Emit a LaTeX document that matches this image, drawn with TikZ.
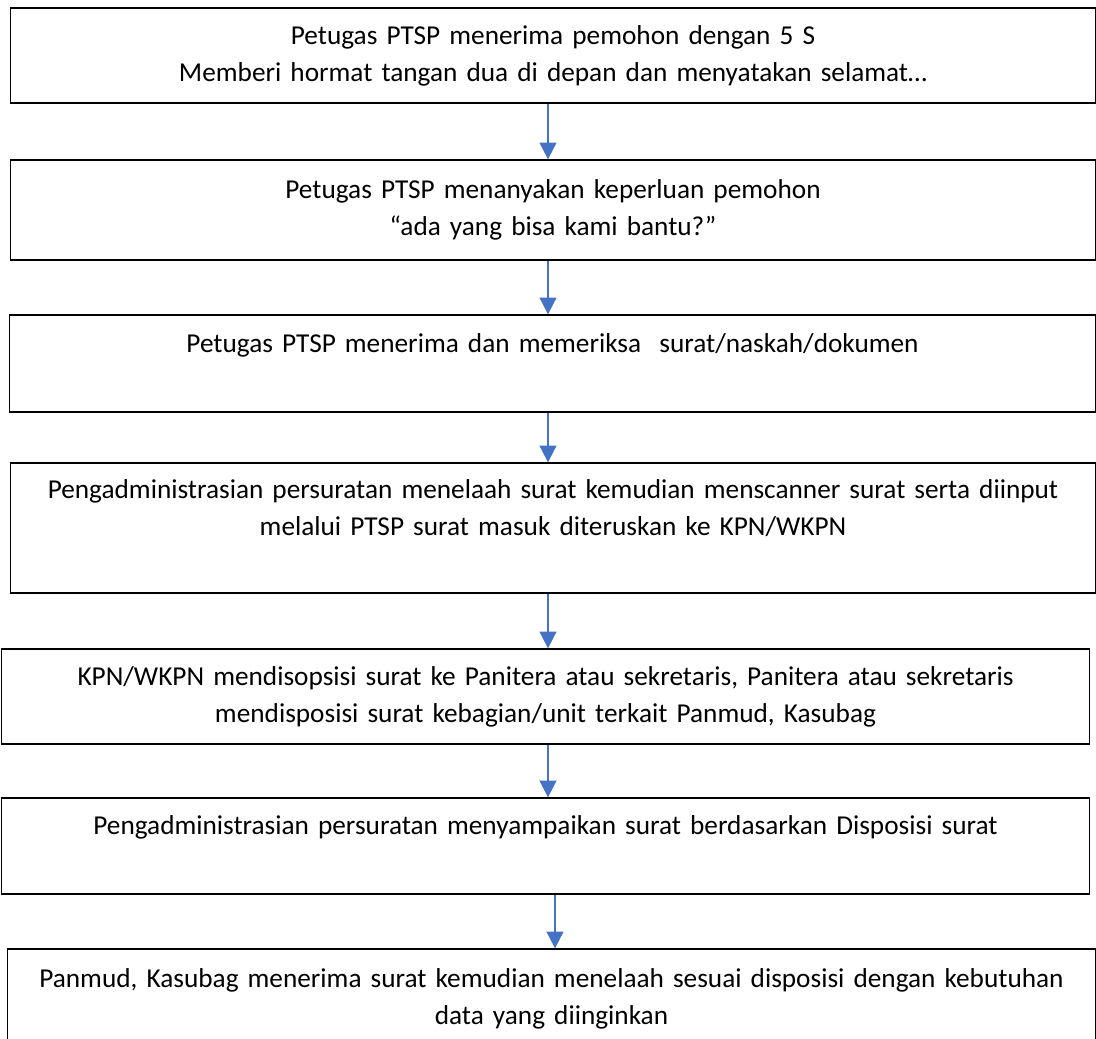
\documentclass[tikz,border=0pt]{standalone}
\usepackage{fontspec}
\setmainfont{Carlito}
\usetikzlibrary{arrows.meta}
\definecolor{flowblue}{HTML}{4472C4}
\newcommand{\boxfont}{\fontsize{19.4}{26.3}\selectfont}
\begin{document}
\begin{tikzpicture}[
                x = 0.025cm, y = -0.025cm,
                stepbox/.style = {draw, line width = 0.9pt, rectangle, align = center,
                                  text width = 26.8cm, inner sep = 0pt, font = \boxfont,
                                  execute at begin node = \strut, execute at end node = \strut},
                flow/.style = {draw = flowblue, line width = 1.3pt,
                               -{Triangle[width = 0.42cm, length = 0.42cm]}}
                ]
                \useasboundingbox (0,0) rectangle (1096,1038);
                \clip (0,0) rectangle (1096,1038);
                \coordinate (col) at (548,0);
                \coordinate (colb) at (555,0);
                % boxes
                \node[stepbox, minimum width = 27.1cm, minimum height = 2.375cm] (b1) at (553,55.5)
                    {Petugas PTSP menerima pemohon dengan 5 S\\Memberi hormat tangan dua di depan dan menyatakan selamat…};
                \node[stepbox, minimum width = 27.1cm, minimum height = 2.5cm] (b2) at (553,210)
                    {Petugas PTSP menanyakan keperluan pemohon\\“ada yang bisa kami bantu?”};
                \node[stepbox, minimum width = 27.125cm, minimum height = 2.425cm] (b3) at (552.5,363.5)
                    {Petugas PTSP menerima dan memeriksa\ \ surat/naskah/dokumen\\};
                \node[stepbox, minimum width = 27.1cm, minimum height = 3.25cm] (b4) at (553,528)
                    {Pengadministrasian persuratan menelaah surat kemudian menscanner surat serta diinput\\melalui PTSP surat masuk diteruskan ke KPN/WKPN\\};
                \node[stepbox, minimum width = 27.175cm, minimum height = 2.375cm] (b5) at (545.5,696.5)
                    {KPN/WKPN mendisopsisi surat ke Panitera atau sekretaris, Panitera atau sekretaris\\mendisposisi surat kebagian/unit terkait Panmud, Kasubag};
                \node[stepbox, minimum width = 27.175cm, minimum height = 2.4cm] (b6) at (545.5,846)
                    {Pengadministrasian persuratan menyampaikan surat berdasarkan Disposisi surat\\};
                \node[stepbox, minimum width = 27.175cm, minimum height = 2.5cm] (b7) at (551.5,999)
                    {Panmud, Kasubag menerima surat kemudian menelaah sesuai disposisi dengan kebutuhan\\data yang diinginkan};
                % arrows
                \draw[flow] (b1.south -| col) -- (b2.north -| col);
                \draw[flow] (b2.south -| col) -- (b3.north -| col);
                \draw[flow] (b3.south -| col) -- (b4.north -| col);
                \draw[flow] (b4.south -| col) -- (b5.north -| col);
                \draw[flow] (b5.south -| col) -- (b6.north -| col);
                \draw[flow] (b6.south -| colb) -- (b7.north -| colb);
\end{tikzpicture}
\end{document}
